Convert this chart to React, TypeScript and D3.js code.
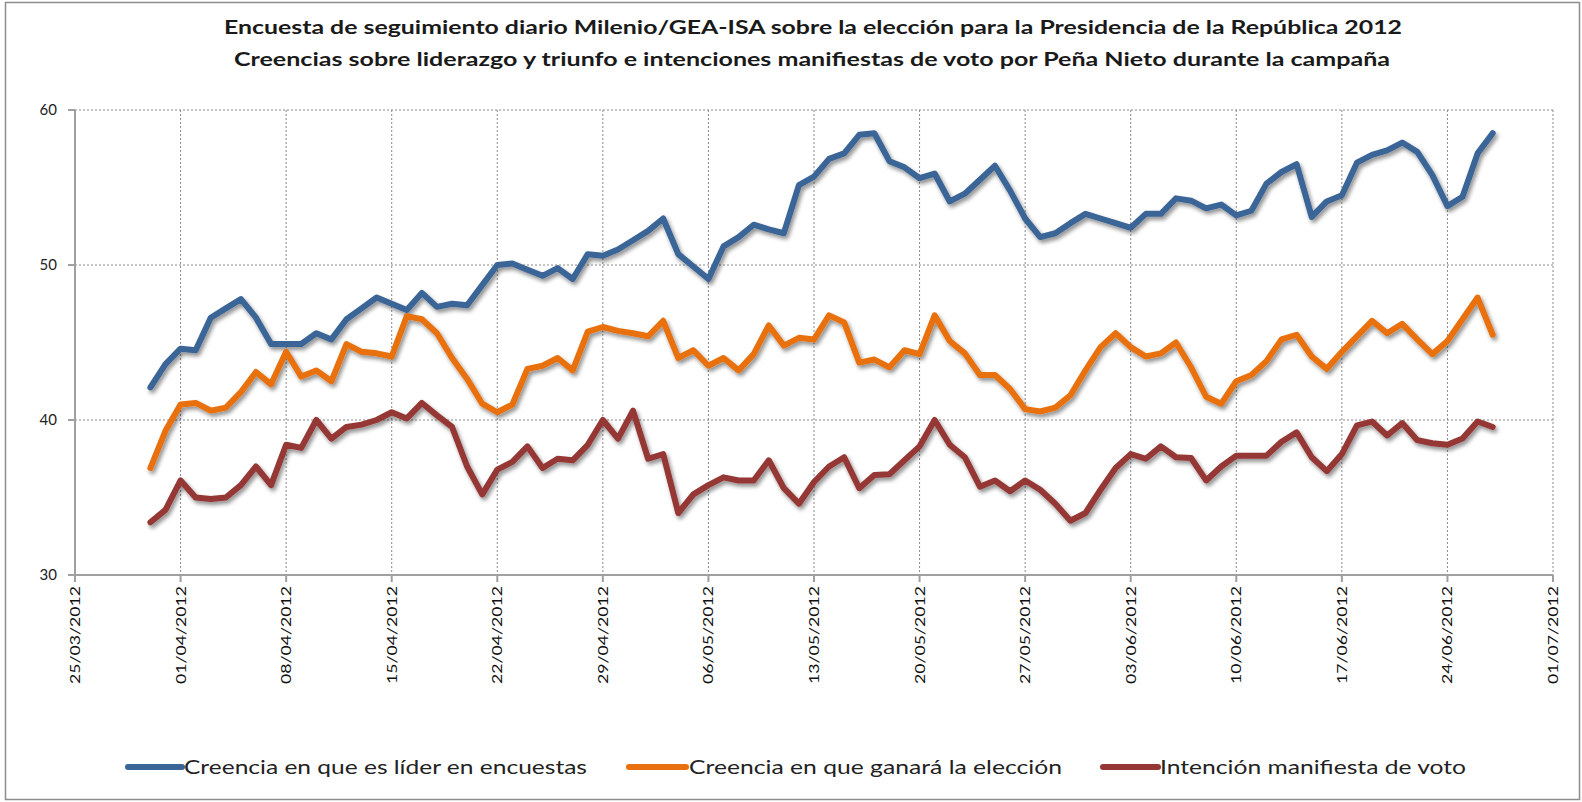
import React from "react";
import * as d3 from "d3";

const titleLines = [
  "Encuesta de seguimiento diario Milenio/GEA-ISA  sobre la elección para la Presidencia de la República  2012",
  "Creencias sobre liderazgo  y triunfo e intenciones manifiestas  de voto por Peña Nieto durante la campaña",
];

const startDay = "30/03/2012";
const endDay = "28/06/2012"; // exclusive

const tickLabels = [
  "25/03/2012", "01/04/2012", "08/04/2012", "15/04/2012", "22/04/2012",
  "29/04/2012", "06/05/2012", "13/05/2012", "20/05/2012", "27/05/2012",
  "03/06/2012", "10/06/2012", "17/06/2012", "24/06/2012", "01/07/2012",
];

const yTicks = [30, 40, 50, 60];

const seriesNames = [
  "Creencia en que es líder en encuestas",
  "Creencia en que ganará  la elección",
  "Intención manifiesta  de voto",
];

const lider = [
  42.1, 43.6, 44.6, 44.5, 46.6, 47.2, 47.8, 46.6, 44.9, 44.9,
  44.9, 45.6, 45.2, 46.5, 47.2, 47.9, 47.5, 47.1, 48.2, 47.3,
  47.5, 47.4, 48.7, 50.0, 50.1, 49.7, 49.3, 49.8, 49.1, 50.7,
  50.6, 51.0, 51.6, 52.2, 53.0, 50.7, 49.9, 49.1, 51.2, 51.8,
  52.6, 52.3, 52.05, 55.15, 55.7, 56.85, 57.2, 58.4, 58.5, 56.7,
  56.3, 55.6, 55.9, 54.1, 54.6, 55.5, 56.4, 54.8, 53.0, 51.8,
  52.05, 52.7, 53.3, 53.0, 52.7, 52.4, 53.3, 53.3, 54.3, 54.15,
  53.65, 53.9, 53.2, 53.5, 55.25, 56.0, 56.5, 53.1, 54.1, 54.5,
  56.6, 57.1, 57.4, 57.9, 57.3, 55.8, 53.8, 54.4, 57.2, 58.5,
];

const ganara = [
  36.9, 39.3, 41.0, 41.1, 40.6, 40.8, 41.8, 43.1, 42.3, 44.4,
  42.8, 43.2, 42.5, 44.9, 44.4, 44.3, 44.1, 46.7, 46.5, 45.6,
  44.0, 42.65, 41.05, 40.5, 41.0, 43.3, 43.5, 44.0, 43.2, 45.7,
  46.0, 45.75, 45.6, 45.4, 46.4, 44.0, 44.5, 43.5, 44.0, 43.2,
  44.25, 46.1, 44.8, 45.3, 45.2, 46.75, 46.3, 43.7, 43.9, 43.4,
  44.5, 44.25, 46.75, 45.1, 44.3, 42.9, 42.9, 42.0, 40.7, 40.55,
  40.8, 41.6, 43.2, 44.7, 45.6, 44.7, 44.1, 44.3, 45.0, 43.4,
  41.5, 41.05, 42.5, 42.9, 43.8, 45.2, 45.5, 44.1, 43.3, 44.4,
  45.4, 46.4, 45.6, 46.2, 45.2, 44.25, 45.1, 46.5, 47.9, 45.5,
];

const voto = [
  33.4, 34.2, 36.1, 35.0, 34.9, 35.0, 35.8, 37.0, 35.8, 38.4,
  38.2, 40.0, 38.8, 39.55, 39.7, 40.0, 40.5, 40.1, 41.1, 40.3,
  39.55, 37.0, 35.2, 36.8, 37.3, 38.3, 36.9, 37.5, 37.4, 38.4,
  40.0, 38.8, 40.6, 37.5, 37.8, 34.0, 35.2, 35.8, 36.3, 36.1,
  36.1, 37.4, 35.6, 34.6, 36.0, 37.0, 37.6, 35.6, 36.45, 36.5,
  37.4, 38.3, 40.0, 38.4, 37.6, 35.7, 36.1, 35.4, 36.1, 35.5,
  34.6, 33.5, 34.0, 35.5, 36.9, 37.8, 37.5, 38.3, 37.6, 37.55,
  36.1, 37.0, 37.7, 37.7, 37.7, 38.6, 39.2, 37.6, 36.7, 37.8,
  39.65, 39.9, 39.0, 39.8, 38.7, 38.5, 38.4, 38.8, 39.9, 39.55,
];

const colors = ["#3A6597", "#E8700E", "#953735"];

export default function App() {
  const parse = d3.utcParse("%d/%m/%Y");
  const dates = d3.utcDay.range(parse(startDay)!, parse(endDay)!);
  const ticks = tickLabels.map((t) => parse(t)!);

  const x = d3.scaleUtc().domain([ticks[0], ticks[ticks.length - 1]]).range([75, 1553]);
  const y = d3.scaleLinear().domain([30, 60]).range([575, 110]);

  const line = d3
    .line<number>()
    .x((_, i) => x(dates[i]))
    .y((v) => y(v));

  const series = [lider, ganara, voto];
  const font = "Lato, 'Open Sans', sans-serif";

  const legend = [
    { lx1: 128, lx2: 182, tx: 184, tw: 403 },
    { lx1: 629, lx2: 686, tx: 689, tw: 373 },
    { lx1: 1103, lx2: 1158, tx: 1160, tw: 306 },
  ];

  return (
    <svg
      width={1582}
      height={802}
      style={{ position: "absolute", left: 0, top: 0, background: "#fff" }}
    >
      <defs>
        <filter id="sh" x="-5%" y="-20%" width="110%" height="140%">
          <feGaussianBlur in="SourceAlpha" stdDeviation="2" />
          <feOffset dx="2" dy="3" result="b" />
          <feComponentTransfer>
            <feFuncA type="linear" slope="0.45" />
          </feComponentTransfer>
          <feMerge>
            <feMergeNode />
            <feMergeNode in="SourceGraphic" />
          </feMerge>
        </filter>
      </defs>
      <rect x={5.5} y={2.5} width={1574} height={797} fill="#fff" stroke="#8c8c8c" strokeWidth={1.5} />

      {/* title */}
      <text x={813} y={34} textAnchor="middle" fontFamily={font} fontWeight="bold" fontSize={19}
        textLength={1178} lengthAdjust="spacingAndGlyphs" fill="#1a1a1a">{titleLines[0]}</text>
      <text x={812} y={66} textAnchor="middle" fontFamily={font} fontWeight="bold" fontSize={19}
        textLength={1156} lengthAdjust="spacingAndGlyphs" fill="#1a1a1a">{titleLines[1]}</text>

      {/* horizontal grid */}
      {yTicks.filter((t) => t > 30).map((t) => (
        <line key={"hg" + t} x1={75} x2={1553} y1={y(t)} y2={y(t)} stroke="#8a8a8a" strokeWidth={1} strokeDasharray="2,2" />
      ))}
      {/* vertical grid */}
      {ticks.slice(1).map((t, i) => (
        <line key={"vg" + i} x1={x(t)} x2={x(t)} y1={110} y2={575} stroke="#8a8a8a" strokeWidth={1} strokeDasharray="2,2" />
      ))}

      {/* axes */}
      <line x1={75} x2={75} y1={110} y2={575} stroke="#a0a0a0" strokeWidth={2} />
      <line x1={75} x2={1553} y1={575} y2={575} stroke="#a0a0a0" strokeWidth={2} />
      {yTicks.map((t) => (
        <g key={"yt" + t}>
          <line x1={68} x2={75} y1={y(t)} y2={y(t)} stroke="#a0a0a0" strokeWidth={2} />
          <text x={57} y={y(t)} dy="0.35em" textAnchor="end" fontFamily={font} fontSize={15} fill="#222">{t}</text>
        </g>
      ))}
      {ticks.map((t, i) => (
        <g key={"xt" + i}>
          <line x1={x(t)} x2={x(t)} y1={575} y2={582} stroke="#a0a0a0" strokeWidth={2} />
          <text
            transform={`translate(${x(t)},586) rotate(-90)`}
            dy="0.36em"
            textAnchor="end"
            fontFamily={font}
            fontSize={14}
            textLength={98}
            lengthAdjust="spacingAndGlyphs"
            fill="#111"
          >
            {tickLabels[i]}
          </text>
        </g>
      ))}

      {/* series */}
      {series.map((s, k) => (
        <path key={"s" + k} d={line(s) || ""} fill="none" stroke={colors[k]} strokeWidth={6}
          strokeLinejoin="round" strokeLinecap="round" filter="url(#sh)" />
      ))}

      {/* legend */}
      {legend.map((l, k) => (
        <g key={"lg" + k}>
          <line x1={l.lx1} x2={l.lx2} y1={767} y2={767} stroke={colors[k]} strokeWidth={6} strokeLinecap="round" />
          <text x={l.tx} y={767} dy="0.35em" fontFamily={font} fontSize={19} fill="#222"
            textLength={l.tw} lengthAdjust="spacingAndGlyphs">{seriesNames[k]}</text>
        </g>
      ))}
    </svg>
  );
}
